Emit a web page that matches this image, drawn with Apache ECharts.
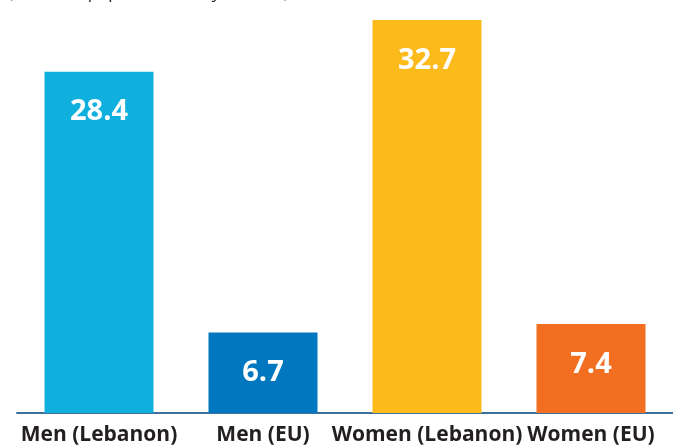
<!DOCTYPE html>
<html>
<head>
<meta charset="utf-8">
<script src="https://cdn.jsdelivr.net/npm/echarts@6/dist/echarts.min.js"></script>
<style>
  html, body { margin: 0; padding: 0; background: #fff; }
  #chart { width: 673px; height: 447px; }
</style>
</head>
<body>
<div id="chart"></div>
<script>
// Unemployment-style comparison, % of population aged 15+
const categories = ['Men (Lebanon)', 'Men (EU)', 'Women (Lebanon)', 'Women (EU)'];
const values = [28.4, 6.7, 32.7, 7.4];
const barColors = ['#10b0de', '#0077be', '#fdbb1b', '#f26f21'];
const subtitle = '(as a % of population 15+ years old)';

const chart = echarts.init(document.getElementById('chart'));
chart.setOption({
  animation: false,
  graphic: [{
    type: 'text',
    left: 8,
    top: -15,
    style: { text: subtitle, font: '17px "Open Sans", sans-serif', fill: '#231f20' }
  }],
  grid: { left: 17, right: -3, top: 20, bottom: 34 },
  xAxis: {
    type: 'category',
    data: categories,
    axisTick: { show: false },
    axisLine: { lineStyle: { color: '#3f6f9c', width: 2 } },
    axisLabel: {
      color: '#231f20',
      fontFamily: '"Open Sans", sans-serif',
      fontWeight: 'bold',
      fontSize: 21,
      margin: 12,
      interval: 0
    }
  },
  yAxis: {
    type: 'value',
    min: 0,
    max: 32.7,
    show: false
  },
  series: [{
    type: 'bar',
    barWidth: 109,
    data: values.map((v, i) => ({ value: v, itemStyle: { color: barColors[i] } })),
    label: {
      show: true,
      position: 'insideTop',
      distance: 26,
      color: '#fff',
      fontFamily: '"Open Sans", sans-serif',
      fontWeight: 'bold',
      fontSize: 29,
      formatter: p => p.value.toFixed(1)
    }
  }]
});
</script>
</body>
</html>
